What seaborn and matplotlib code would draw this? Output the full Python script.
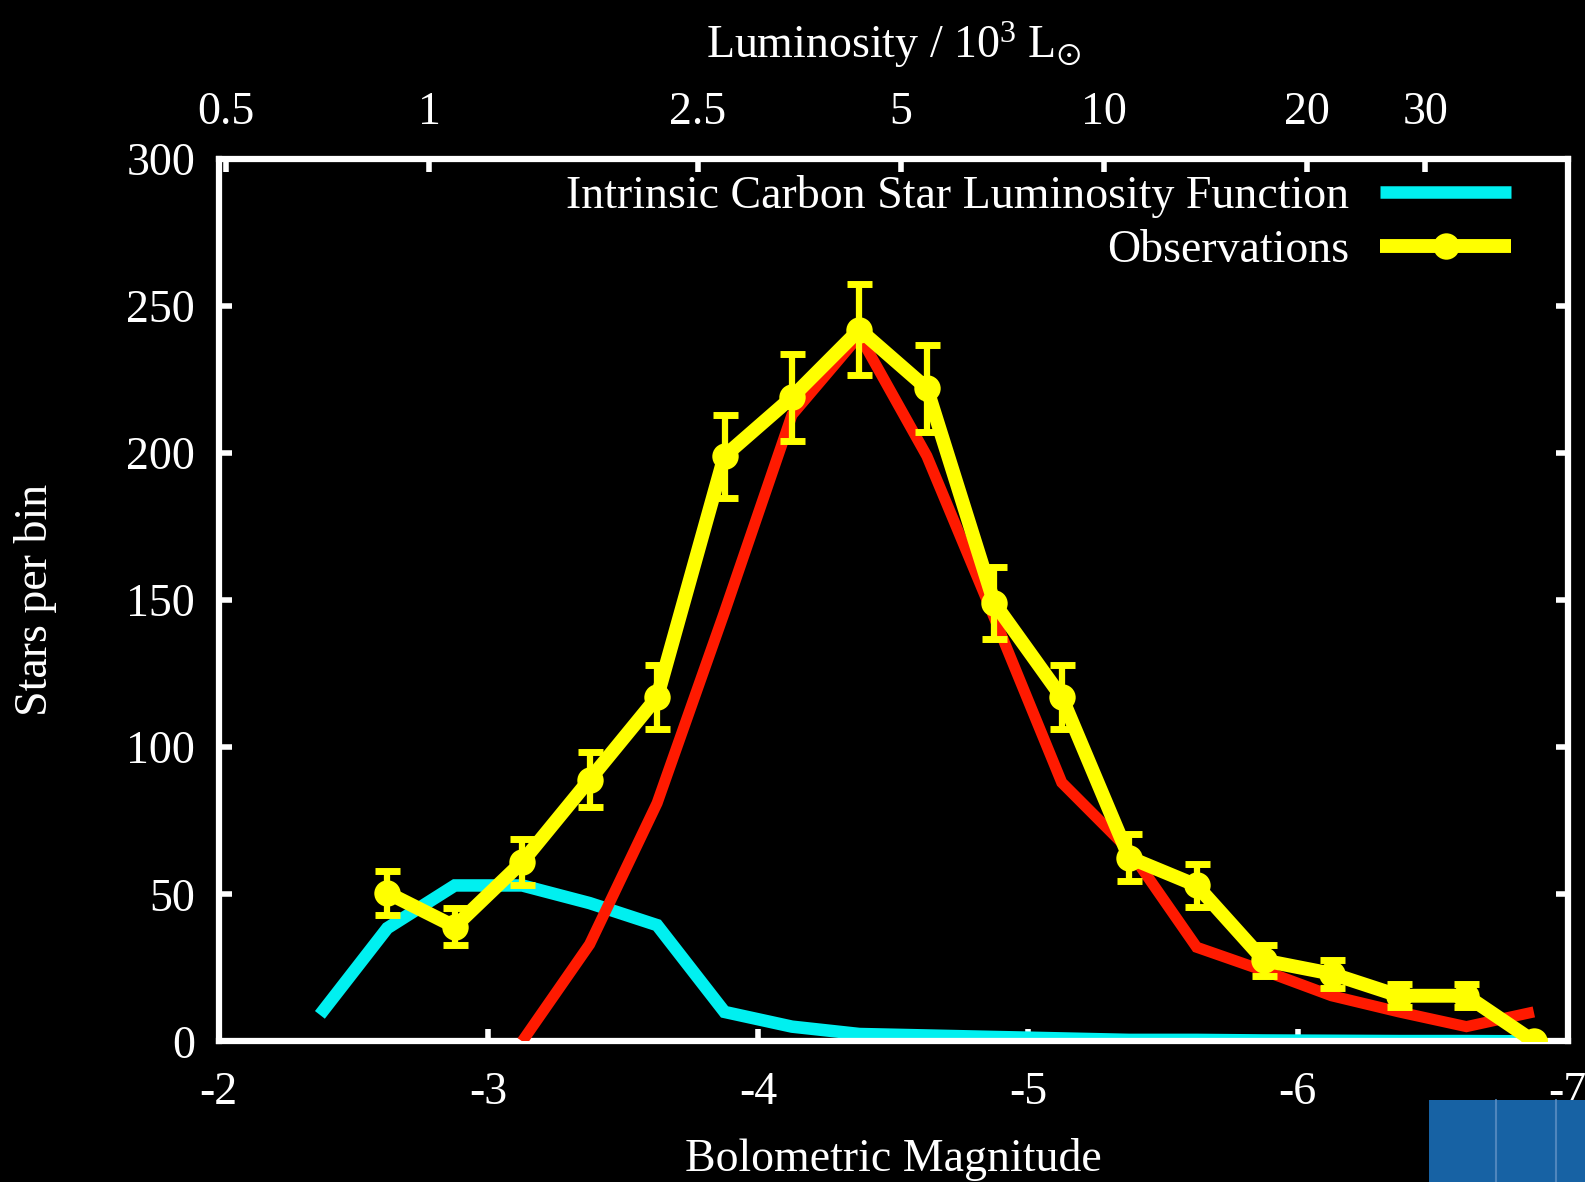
import numpy as np
import pandas as pd
import matplotlib
matplotlib.use("Agg")
import matplotlib.pyplot as plt
from matplotlib.lines import Line2D
from matplotlib.patches import Rectangle
import seaborn as sns

# ---------------- data ----------------
mag_obs = [-2.625, -2.875, -3.125, -3.375, -3.625, -3.875, -4.125, -4.375, -4.625,
           -4.875, -5.125, -5.375, -5.625, -5.875, -6.125, -6.375, -6.625, -6.875]
obs_counts = [50.5, 39, 61, 89, 117, 199, 219, 242, 222,
              149, 117, 62.5, 53, 27.5, 23, 15.5, 15.5, 0]
obs_err = [7.5, 6.3, 7.8, 9.4, 10.8, 14.1, 14.8, 15.6, 14.9,
           12.2, 10.8, 7.9, 7.3, 5.2, 4.8, 3.9, 3.9, 0]

mag_intr = [-2.375, -2.625, -2.875, -3.125, -3.375, -3.625, -3.875, -4.125, -4.375,
            -4.625, -4.875, -5.125, -5.375, -5.625, -5.875, -6.125, -6.375, -6.625, -6.875]
intr_counts = [9, 38.5, 53, 53, 47, 39.5, 10, 5, 2.5,
               2, 1.5, 1, 0.5, 0.5, 0.3, 0.2, 0.1, 0.1, 0]

mag_model = [-3.125, -3.375, -3.625, -3.875, -4.125, -4.375, -4.625, -4.875, -5.125,
             -5.375, -5.625, -5.875, -6.125, -6.375, -6.625, -6.875]
model_counts = [0, 33, 81, 146, 213, 240, 199, 144, 88,
                65, 32, 24, 15.5, 10, 5, 10]

x_ticks = [-2, -3, -4, -5, -6, -7]
y_ticks = [0, 50, 100, 150, 200, 250, 300]
lum_ticks = [0.5, 1, 2.5, 5, 10, 20, 30]
lum_labels = ["0.5", "1", "2.5", "5", "10", "20", "30"]
M_ZERO = -2.78  # bolometric magnitude of 10^3 L_sun

legend_labels = ["Intrinsic Carbon Star Luminosity Function", "Observations"]

# ---------------- style ----------------
sns.set_style("dark", {"axes.facecolor": "black", "figure.facecolor": "black",
                       "axes.edgecolor": "white"})
plt.rcParams["font.family"] = ["Liberation Serif", "DejaVu Serif"]
plt.rcParams["mathtext.fontset"] = "custom"
plt.rcParams["mathtext.rm"] = "Liberation Serif"
plt.rcParams["mathtext.it"] = "Liberation Serif:italic"
plt.rcParams["mathtext.fallback"] = "stix"

FS = 33
CYAN = "#00f0f0"
RED = "#ff1a00"
YEL = "#ffff00"

fig = plt.figure(figsize=(15.85, 11.82), dpi=100, facecolor="black")
ax = fig.add_axes([0.138, 0.119, 0.851, 0.7465])
ax.set_facecolor("black")

df_i = pd.DataFrame({"mag": mag_intr, "n": intr_counts})
df_m = pd.DataFrame({"mag": mag_model, "n": model_counts})
df_o = pd.DataFrame({"mag": mag_obs, "n": obs_counts, "err": obs_err})

sns.lineplot(data=df_i, x="mag", y="n", ax=ax, color=CYAN, lw=9,
             solid_joinstyle="miter", solid_capstyle="butt", zorder=2)
sns.lineplot(data=df_m, x="mag", y="n", ax=ax, color=RED, lw=8,
             solid_joinstyle="miter", solid_capstyle="butt", zorder=3)
ax.errorbar(df_o["mag"], df_o["n"], yerr=df_o["err"], fmt="none",
            ecolor=YEL, elinewidth=4.5, capsize=9, capthick=5, zorder=4)
sns.lineplot(data=df_o, x="mag", y="n", ax=ax, color=YEL, lw=10,
             marker="o", markersize=19, markeredgewidth=0, zorder=5)

ax.set_xlim(-2, -7)
ax.set_ylim(0, 300)
ax.set_xticks(x_ticks, labels=[str(v) for v in x_ticks])
ax.set_yticks(y_ticks, labels=[str(v) for v in y_ticks])
ax.grid(False)
for s in ax.spines.values():
    s.set_color("white")
    s.set_linewidth(4.5)
    s.set_visible(True)
ax.tick_params(axis="both", direction="in", colors="white", labelcolor="white",
               labelsize=FS, length=9, width=4)
ax.tick_params(axis="x", pad=22, top=False, bottom=True)
ax.tick_params(axis="y", pad=17, left=True, right=True)
ax.set_xlabel("Bolometric Magnitude", color="white", fontsize=FS, labelpad=17)
ax.set_ylabel("Stars per bin", color="white", fontsize=FS, labelpad=50)

# top luminosity axis
ax2 = ax.twiny()
ax2.set_xlim(ax.get_xlim())
lum_pos = [M_ZERO - 2.5 * np.log10(v) for v in lum_ticks]
ax2.set_xticks(lum_pos, labels=lum_labels)
ax2.tick_params(axis="x", direction="in", colors="white", labelcolor="white",
                labelsize=FS, length=9, width=4, pad=18)
for s in ax2.spines.values():
    s.set_visible(False)
ax2.grid(False)
ax2.set_xlabel("Luminosity / $\\mathrm{10^3\\ L_{\\odot}}$", color="white",
               fontsize=FS, labelpad=24)

# legend
h1 = Line2D([], [], color=CYAN, lw=9, solid_capstyle="butt")
h2 = Line2D([], [], color=YEL, lw=10, marker="o", markersize=19, markeredgewidth=0,
            solid_capstyle="butt")
leg = ax.legend(handles=[h1, h2], labels=legend_labels, loc="upper right",
                bbox_to_anchor=(0.958, 0.982), borderaxespad=0, borderpad=0,
                markerfirst=False, frameon=False, fontsize=FS, handlelength=2.85,
                handletextpad=0.68, labelspacing=0.25, labelcolor="white")
leg.set_zorder(10)

# blue corner patch (slide artifact)
fig.patches.append(Rectangle((1429 / 1585, 0), 156 / 1585, 82 / 1182,
                             transform=fig.transFigure, facecolor="#1762a4",
                             edgecolor="none"))
for xx in (1496, 1556):
    fig.lines.append(Line2D([xx / 1585, xx / 1585], [0, 82 / 1182],
                            transform=fig.transFigure, color="#4f86bd", lw=1.5))

fig.savefig("out.png", dpi=100, facecolor="black")
